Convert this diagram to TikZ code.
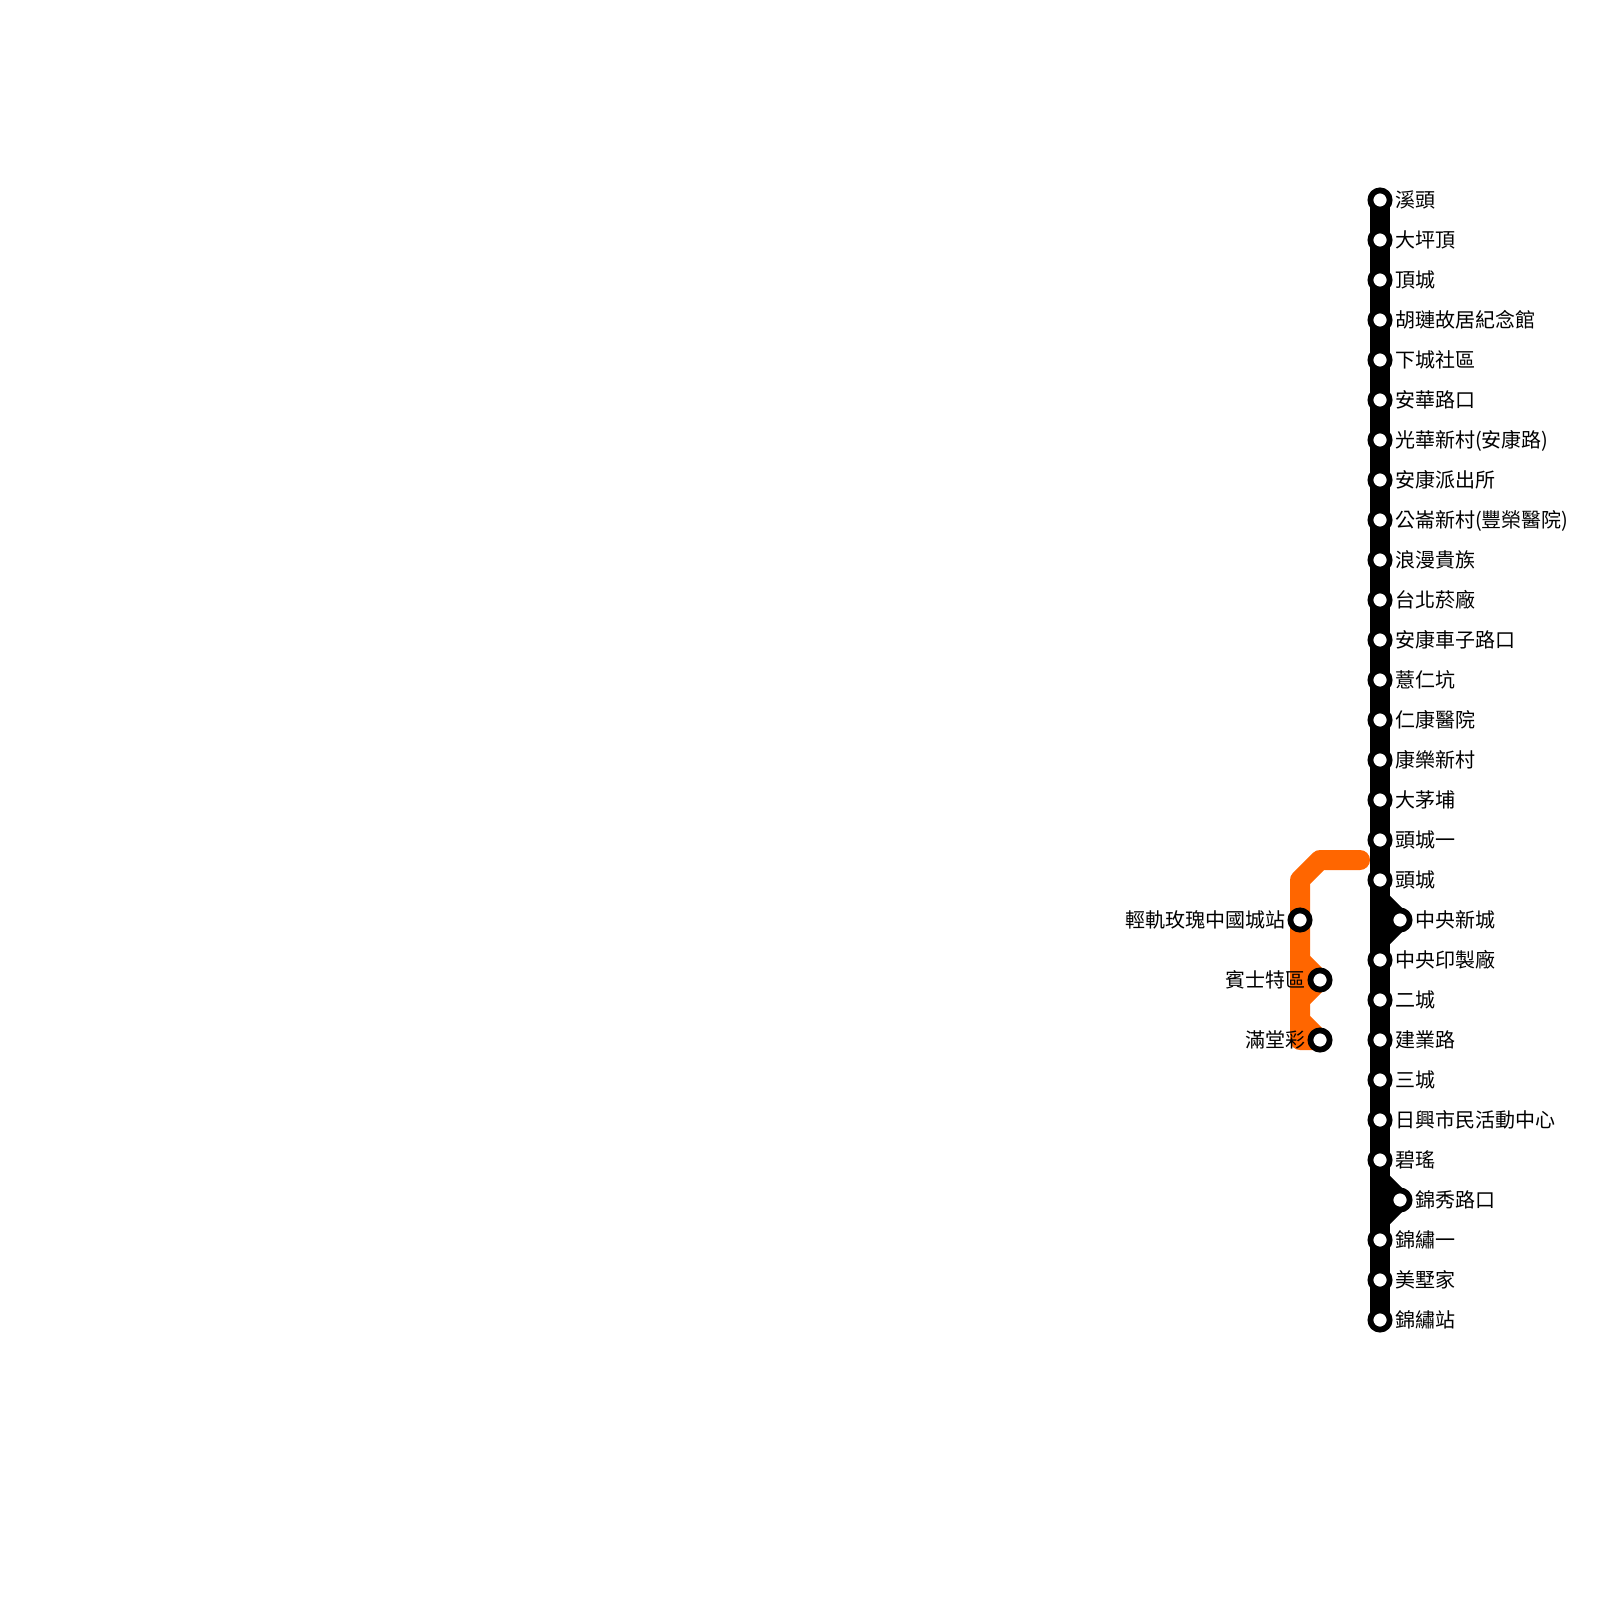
\documentclass[tikz,border=0pt]{standalone}
\usepackage{fontspec}
\setmainfont{Noto Sans CJK TC}
\usetikzlibrary{backgrounds}
\definecolor{orangeline}{HTML}{FF6600}
\tikzset{
  x=0.5pt,y=-0.5pt,
  stn/.style={circle,draw=black,fill=white,line width=2.9pt,minimum size=9.6pt,inner sep=0pt,outer sep=0pt},
  lblR/.style={anchor=base west,inner sep=0pt,outer sep=0pt,text=black,font=\fontsize{10pt}{10pt}\selectfont},
  lblL/.style={anchor=base east,inner sep=0pt,outer sep=0pt,text=black,font=\fontsize{10pt}{10pt}\selectfont},
  blk/.style={draw=black,line width=10pt,line join=round},
  org/.style={draw=orangeline,line width=10pt,line join=round},
}
\begin{document}
\begin{tikzpicture}
\useasboundingbox (0,0) rectangle (1600,1600);
% black line stations
\foreach \n/\x/\y/\t in {
 a1/1380/200/溪頭,a2/1380/240/大坪頂,a3/1380/280/頂城,a4/1380/320/胡璉故居紀念館,
 a5/1380/360/下城社區,a6/1380/400/安華路口,a7/1380/440/光華新村(安康路),a8/1380/480/安康派出所,
 a9/1380/520/公崙新村(豐榮醫院),a10/1380/560/浪漫貴族,a11/1380/600/台北菸廠,a12/1380/640/安康車子路口,
 a13/1380/680/薏仁坑,a14/1380/720/仁康醫院,a15/1380/760/康樂新村,a16/1380/800/大茅埔,
 a17/1380/840/頭城一,a18/1380/880/頭城,a19/1400/920/中央新城,a20/1380/960/中央印製廠,
 a21/1380/1000/二城,a22/1380/1040/建業路,a23/1380/1080/三城,a24/1380/1120/日興市民活動中心,
 a25/1380/1160/碧瑤,a26/1400/1200/錦秀路口,a27/1380/1240/錦繡一,a28/1380/1280/美墅家,a29/1380/1320/錦繡站}
{
  \node[stn] (\n) at (\x,\y) {};
  \node[lblR] (t\n) at (\x+15,\y+7.6) {\t};
}
% orange line stations
\foreach \n/\x/\y/\t in {b1/1300/920/輕軌玫瑰中國城站,b2/1320/980/賓士特區,b3/1320/1040/滿堂彩}
{
  \node[stn] (\n) at (\x,\y) {};
  \node[lblL] (t\n) at (\x-15,\y+7.6) {\t};
}
% joints
\coordinate (j1) at (1380,900);
\coordinate (j2) at (1380,940);
\coordinate (j3) at (1380,1180);
\coordinate (j4) at (1380,1220);
\coordinate (o0) at (1360,860);
\coordinate (o1) at (1320,860);
\coordinate (o2) at (1300,880);
\coordinate (o3) at (1300,960);
\coordinate (o4) at (1300,1000);
\coordinate (o5) at (1300,1020);
\coordinate (o6) at (1300,1040);
\begin{scope}[on background layer]
  \fill[white] (0,0) rectangle (1600,1600);
  \draw[org,line cap=round] (o0) -- (o1) -- (o2) -- (o6) -- (b3.center) -- (o5);
  \draw[org] (o3) -- (b2.center) -- (o4);
  \draw[blk] (a1.center) -- (a29.center);
  \draw[blk] (j1) -- (a19.center) -- (j2);
  \draw[blk] (j3) -- (a26.center) -- (j4);
\end{scope}
\end{tikzpicture}
\end{document}
